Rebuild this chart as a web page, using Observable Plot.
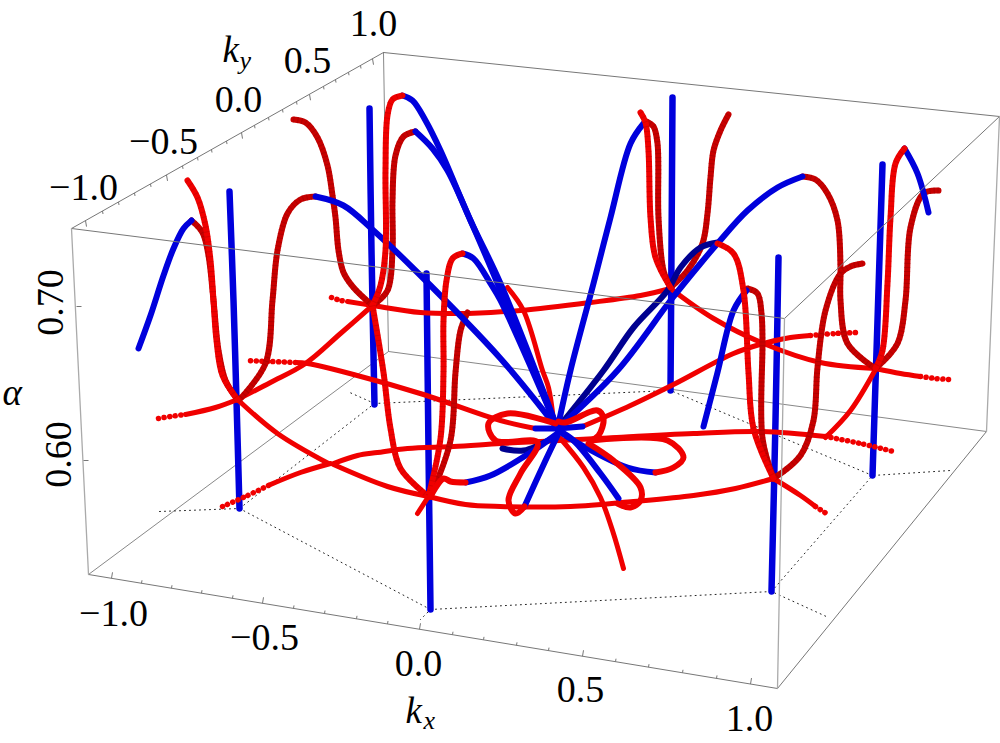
<!DOCTYPE html>
<html><head><meta charset="utf-8">
<style>html,body{margin:0;padding:0;background:#fff}#chart{position:relative;width:1000px;height:743px}#chart svg{position:absolute;left:0;top:0;background:transparent}</style>
<script src="https://cdn.jsdelivr.net/npm/d3@7"></script>
<script src="https://cdn.jsdelivr.net/npm/@observablehq/plot@0.6"></script>
</head><body><div id="chart"></div>
<script>
// --- box edges, in the picture plane of the 3-D view
const boxBack = [[[383,52],[388,351]],[[388,351],[88,574]],[[388,351],[986,431]]];
const boxFront = [[[71,228],[383,52]],[[383,52],[999,116]],[[999,116],[784,318]],[[784,318],[71,228]],[[88,574],[777,688]],[[777,688],[986,431]]];
const boxVert = [[[71,228],[88,574]],[[986,431],[999,116]],[[784,318],[777,688]]];
// --- ticks
const kxTicks = [111,141,171,201,232,262,293,324,356,387,419,452,483,516,548,582,615,648,682,716,750];
const kyTicks = [85,102,118,134,150,166,182,197,211,226,241,254,268,282,296,309,323,335,348,360,372];
const alphaTicks = [[76,306],[83,460]];
// --- dotted floor outline
const floorDotted = [
 [[159,511],[239,508],[430,609],[420,619]],
 [[430,609],[771,591],[828,617]],
 [[771,591],[872,475],[950,470]],
 [[872,475],[670,390],[374,403],[239,508]],
 [[374,403],[347,391]]
];
// --- vertical blue sticks
const sticks = [
 [[229,191],[233,300],[236,400],[239,508]],
 [[369,108],[371,250],[374,404]],
 [[426,273],[428,450],[430,609]],
 [[672,97],[671,250],[670,390]],
 [[778,257],[775,420],[771,591]],
 [[882,164],[877,320],[872,475]]
];
// --- red curves on the floor (solid stretches)
const floors = [
 [[347,301],[372,305],[420,312],[467,313]],
 [[467,313],[520,310],[590,302],[640,295],[670,288]],
 [[670,288],[713,318],[763,343],[820,362],[875,368]],
 [[875,368],[900,373],[920,376]],
 [[185,414],[215,407],[237,399]],
 [[237,399],[270,382],[305,363],[340,333],[372,305]],
 [[237,399],[277,433],[328,463]],
 [[333,464],[387,486],[428,496]],
 [[428,496],[465,504],[500,506],[570,506],[633,501],[693,495],[735,488],[773,478]],
 [[773,478],[800,495],[815,506]],
 [[270,484],[300,472],[330,463]],
 [[333,463],[357,455],[377,452],[407,448],[453,446],[500,443],[540,441],[597,438],[693,433],[760,431],[825,436]],
 [[825,437],[850,410],[875,369]],
 [[582,426],[630,405],[673,384],[733,353],[763,343],[790,337],[810,335]],
 [[535,428],[500,420],[423,394],[353,374],[307,363],[295,362]],
 [[560,438],[583,467],[600,497],[612,530],[623,568]],
 [[507,287],[523,310],[542,370],[548,387],[553,420]],
 [[417,513],[428,496]]
];
// --- red curves where they break into beads
const beaded = [
 [[331,297],[340,300],[347,301]],
 [[920,376],[935,378],[950,379]],
 [[158,418],[170,416],[185,414]],
 [[295,362],[270,361],[247,360]],
 [[222,506],[245,496],[270,484]],
 [[825,436],[860,443],[893,451]],
 [[810,335],[835,333],[858,332]],
 [[815,506],[829,515]]
];
// --- bright and dark red rises
const bright = [
 [[187,180],[197,197],[205,225],[210,260],[213,300],[216,340],[222,375],[237,399]],
 [[402,95],[392,99],[387,115],[385,170],[385,250],[380,285],[372,305]],
 [[462,253],[452,258],[446,280],[443,320],[443,372],[440,438],[428,496]],
 [[372,305],[383,372],[390,428],[400,468],[428,496]],
 [[640,112],[645,122],[648,150],[650,217],[655,257],[670,287]],
 [[717,243],[733,253],[743,290],[748,372],[753,428],[773,478]],
 [[904,148],[895,163],[890,217],[887,283],[882,350],[875,368]]
];
const dark = [
 [[191,220],[202,232],[208,255],[213,300],[218,350],[225,380],[237,399]],
 [[315,196],[300,199],[287,213],[277,250],[272,300],[265,363],[240,398]],
 [[293,119],[305,122],[317,137],[327,165],[332,195],[335,217],[338,250],[343,272],[353,287],[372,305]],
 [[415,131],[403,136],[395,155],[392,200],[392,250],[387,290],[372,305]],
 [[467,312],[460,330],[455,372],[450,440],[430,496]],
 [[646,121],[653,126],[657,143],[658,217],[663,270],[670,287]],
 [[728,114],[720,130],[713,150],[710,177],[707,213],[702,243],[687,270],[670,287]],
 [[747,288],[757,293],[761,313],[762,340],[762,438],[773,478]],
 [[773,478],[800,455],[813,420],[817,367],[825,310],[840,273],[850,266],[862,263]],
 [[802,176],[815,179],[827,193],[837,220],[840,267],[840,300],[847,343],[875,368]],
 [[938,190],[923,193],[910,227],[905,300],[897,343],[875,368]]
];
// --- blue arcs from the peaks into the centre
const blueArcs = [
 [[138,348],[150,315],[163,275],[173,248],[183,228],[191,220]],
 [[315,196],[343,205],[373,230],[417,272],[500,358],[557,428]],
 [[402,95],[412,100],[425,120],[440,150],[470,220],[500,283],[557,428]],
 [[415,131],[432,148],[447,170],[470,220],[500,290],[557,428]],
 [[462,253],[473,258],[490,283],[500,300],[557,428]],
 [[643,123],[630,143],[610,217],[593,283],[570,370],[557,428]],
 [[746,290],[733,310],[717,372],[703,426]],
 [[802,176],[777,187],[747,210],[717,243],[700,263],[670,300],[617,370],[557,428]],
 [[904,148],[917,173],[928,212]],
 [[465,482],[490,475],[530,452],[557,433]],
 [[524,506],[545,460],[557,435]],
 [[655,472],[627,467],[573,440],[558,430]],
 [[618,498],[600,473],[573,440],[558,430]],
 [[535,428],[557,428]],
 [[582,426],[557,428]]
];
const blueDark = [
 [[717,242],[700,247],[680,267],[667,290],[633,327],[603,370],[557,428]],
 [[502,448],[523,450],[553,437]]
];
// --- red loops round the centre
const loops = [
 [[555,423],[507,413],[488,423],[495,440],[537,442],[520,473],[508,500],[515,513],[524,506]],
 [[558,421],[565,422],[597,410],[603,418],[598,435],[590,440]],
 [[590,440],[667,440],[683,457],[673,467],[655,472]],
 [[588,443],[613,460],[640,487],[640,500],[630,507],[617,503]],
 [[430,496],[443,478],[450,481],[465,482]]
];
// --- axis labels
const numberLabels = [
 ["1.0",373,35],["0.5",307,72],["0.0",238,111],["\u22120.5",163,153],["\u22121.0",83,199],
 ["\u22121.0",113,625],["\u22120.5",264,649],["0.0",418,675],["0.5",580,701],["1.0",749,730]
];
const rotatedLabels = [["0.70",62,302],["0.60",70,454]];
const kLabels = [["k",222,61],["k",405,722],["\u03b1",2,404]];
const subLabels = [["y",239,68],["x",423,728]];

const FONT = "Liberation Serif";
const X = d => d[0], Y = d => d[1];
const lines = (list, o) => list.map(s => Plot.line(s, {x: X, y: Y, curve: "catmull-rom", strokeLinecap: "round", strokeLinejoin: "round", ...o}));
const RED = "#f00000", DARK = "#c80000", BLUE = "#0000dc";
const frame = {
 width: 1000, height: 743, margin: 0,
 x: {domain: [0, 1000], axis: null},
 y: {domain: [743, 0], axis: null}
};

const chart = document.getElementById("chart");
chart.append(Plot.plot({...frame,
 marks: [
  ...boxBack.map(s => Plot.line(s, {x: X, y: Y, stroke: "#888", strokeWidth: 1})),
  ...floorDotted.map(s => Plot.line(s, {x: X, y: Y, stroke: "#222", strokeWidth: 1, strokeDasharray: "1 4"})),
  ...lines(sticks, {stroke: BLUE, strokeWidth: 6.5}),
  ...lines(floors, {stroke: RED, strokeWidth: 5}),
  ...lines(beaded, {stroke: RED, strokeWidth: 5.5, strokeDasharray: "0.1 5.5"}),
  ...lines(dark, {stroke: DARK, strokeWidth: 6}),
  ...lines(dark, {stroke: "#9a0000", strokeWidth: 6, strokeDasharray: "1 3", strokeLinecap: "butt", strokeOpacity: 0.5}),
  ...lines(blueDark, {stroke: "#000090", strokeWidth: 6}),
  ...lines(blueArcs, {stroke: BLUE, strokeWidth: 6}),
  ...lines(bright, {stroke: RED, strokeWidth: 6}),
  ...lines(bright, {stroke: "#b00000", strokeWidth: 6, strokeDasharray: "1 4", strokeLinecap: "butt", strokeOpacity: 0.4}),
  ...lines(loops, {stroke: RED, strokeWidth: 6}),
  ...boxFront.map(s => Plot.line(s, {x: X, y: Y, stroke: "#777", strokeWidth: 1})),
  ...boxVert.map(s => Plot.line(s, {x: X, y: Y, stroke: "#aaa", strokeWidth: 1.3})),
  Plot.link(kxTicks, {
    x1: d => d, y1: d => 574 + (d - 88) * 114 / 689,
    x2: (d, i) => d + (i % 5 ? 0.5 : 1), y2: (d, i) => 574 + (d - 88) * 114 / 689 - (i % 5 ? 3 : 6),
    stroke: "#777", strokeWidth: 1}),
  Plot.link(kyTicks, {
    x1: d => d, y1: d => 228 - (d - 71) * 176 / 312,
    x2: (d, i) => d + (i % 5 ? 0.5 : 1), y2: (d, i) => 228 - (d - 71) * 176 / 312 + (i % 5 ? 3 : 6),
    stroke: "#777", strokeWidth: 1}),
  Plot.link(alphaTicks, {x1: d => d[0], y1: d => d[1], x2: d => d[0] + 5, y2: d => d[1], stroke: "#777", strokeWidth: 1})
 ]
}));
// labels sit in their own transparent layers over the curves
chart.append(Plot.plot({...frame, marks: [
  Plot.text(numberLabels, {text: d => d[0], x: d => d[1], y: d => d[2], fontFamily: FONT, fontSize: 38, fill: "#000", textAnchor: "middle", lineAnchor: "bottom"})
]}));
chart.append(Plot.plot({...frame, marks: [
  Plot.text(rotatedLabels, {text: d => d[0], x: d => d[1], y: d => d[2], rotate: -90, fontFamily: FONT, fontSize: 38, fill: "#000", textAnchor: "middle", lineAnchor: "bottom"})
]}));
chart.append(Plot.plot({...frame, marks: [
  Plot.text(kLabels, {text: d => d[0], x: d => d[1], y: d => d[2], fontFamily: FONT, fontSize: 37, fontStyle: "italic", fill: "#000", textAnchor: "start", lineAnchor: "bottom"}),
  Plot.text(subLabels, {text: d => d[0], x: d => d[1], y: d => d[2], fontFamily: FONT, fontSize: 26, fontStyle: "italic", fill: "#000", textAnchor: "start", lineAnchor: "bottom"})
]}));
</script></body></html>
